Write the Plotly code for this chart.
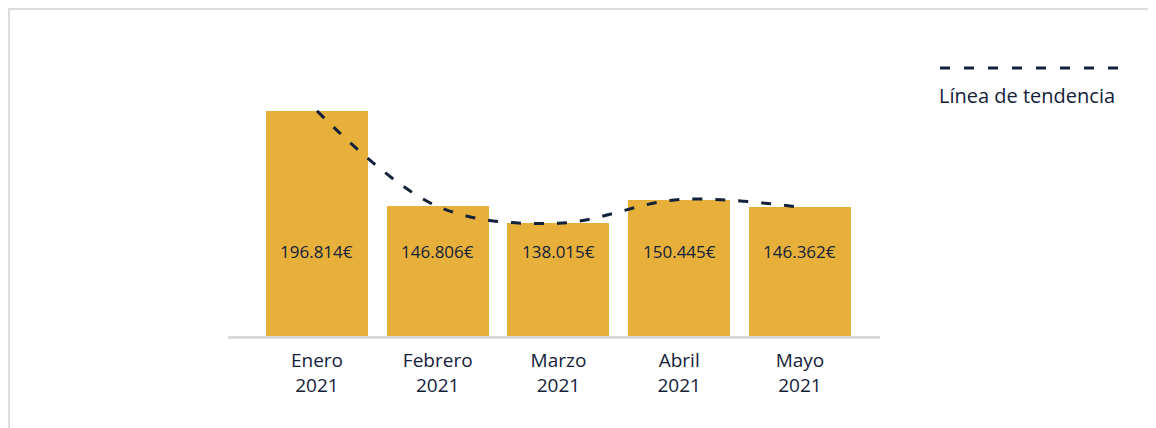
import plotly.graph_objects as go

months = ["Enero<br>2021", "Febrero<br>2021", "Marzo<br>2021", "Abril<br>2021", "Mayo<br>2021"]
sales = [196814, 146806, 138015, 150445, 146362]
legend_label = "Línea de tendencia"

BAR = "#E6B03A"
NAVY = "#14213A"
FONT = "'Open Sans', sans-serif"

OFF = 8  # page body margin
W, H = 1156, 428
ml, mr, mt, mb = 228 - OFF, W - (880 - OFF), 20 - OFF, H - (336 - OFF)
pw, ph = W - ml - mr, H - mt - mb

def px_x(px):
    return (px - OFF - ml) / pw

def px_y(py):
    return (H - mb - (py - OFF)) / ph

y0 = 79000
k = 1.9104e-3
y1 = y0 + ph / k

labels = [f"{v:,}".replace(",", ".") + "€" for v in sales]

fig = go.Figure()
fig.add_trace(go.Bar(x=months, y=sales, marker=dict(color=BAR, line=dict(width=0)),
                     width=0.845, hoverinfo="skip", showlegend=False))
fig.add_trace(go.Scatter(x=months, y=sales, mode="lines", name=legend_label,
                         line=dict(color=NAVY, width=3, dash="10px,13px", shape="spline", smoothing=1),
                         showlegend=False))

for m, t in zip(months, labels):
    fig.add_annotation(x=m, xref="x", y=px_y(251), yref="paper", text=t, showarrow=False,
                       font=dict(family=FONT, size=17, color=NAVY), yanchor="middle")

# custom legend
fig.add_shape(type="line", xref="paper", yref="paper", x0=px_x(940), x1=px_x(1118),
              y0=px_y(68), y1=px_y(68), line=dict(color=NAVY, width=3, dash="10px,14px"))
fig.add_annotation(x=px_x(937), y=px_y(95), xref="paper", yref="paper", text=legend_label,
                   showarrow=False, xanchor="left", yanchor="middle",
                   font=dict(family=FONT, size=20, color=NAVY))

# card border
fig.add_shape(type="rect", xref="paper", yref="paper", x0=px_x(9), x1=px_x(1180),
              y0=px_y(460), y1=px_y(9), line=dict(color="#DCDCDC", width=2), layer="below")

fig.update_layout(
    width=W, height=H, margin=dict(l=ml, r=mr, t=mt, b=mb),
    paper_bgcolor="white", plot_bgcolor="white",
    showlegend=False, bargap=0,
    xaxis=dict(range=[-0.737, 4.663], showline=True, linecolor="#D9D9D9", linewidth=3,
               showgrid=False, zeroline=False, ticks="", ticklabelstandoff=5,
               tickfont=dict(family=FONT, size=19, color=NAVY), fixedrange=True),
    yaxis=dict(range=[y0, y1], visible=False, showgrid=False, zeroline=False),
    font=dict(family=FONT, color=NAVY),
)

fig.write_html("out.html")
